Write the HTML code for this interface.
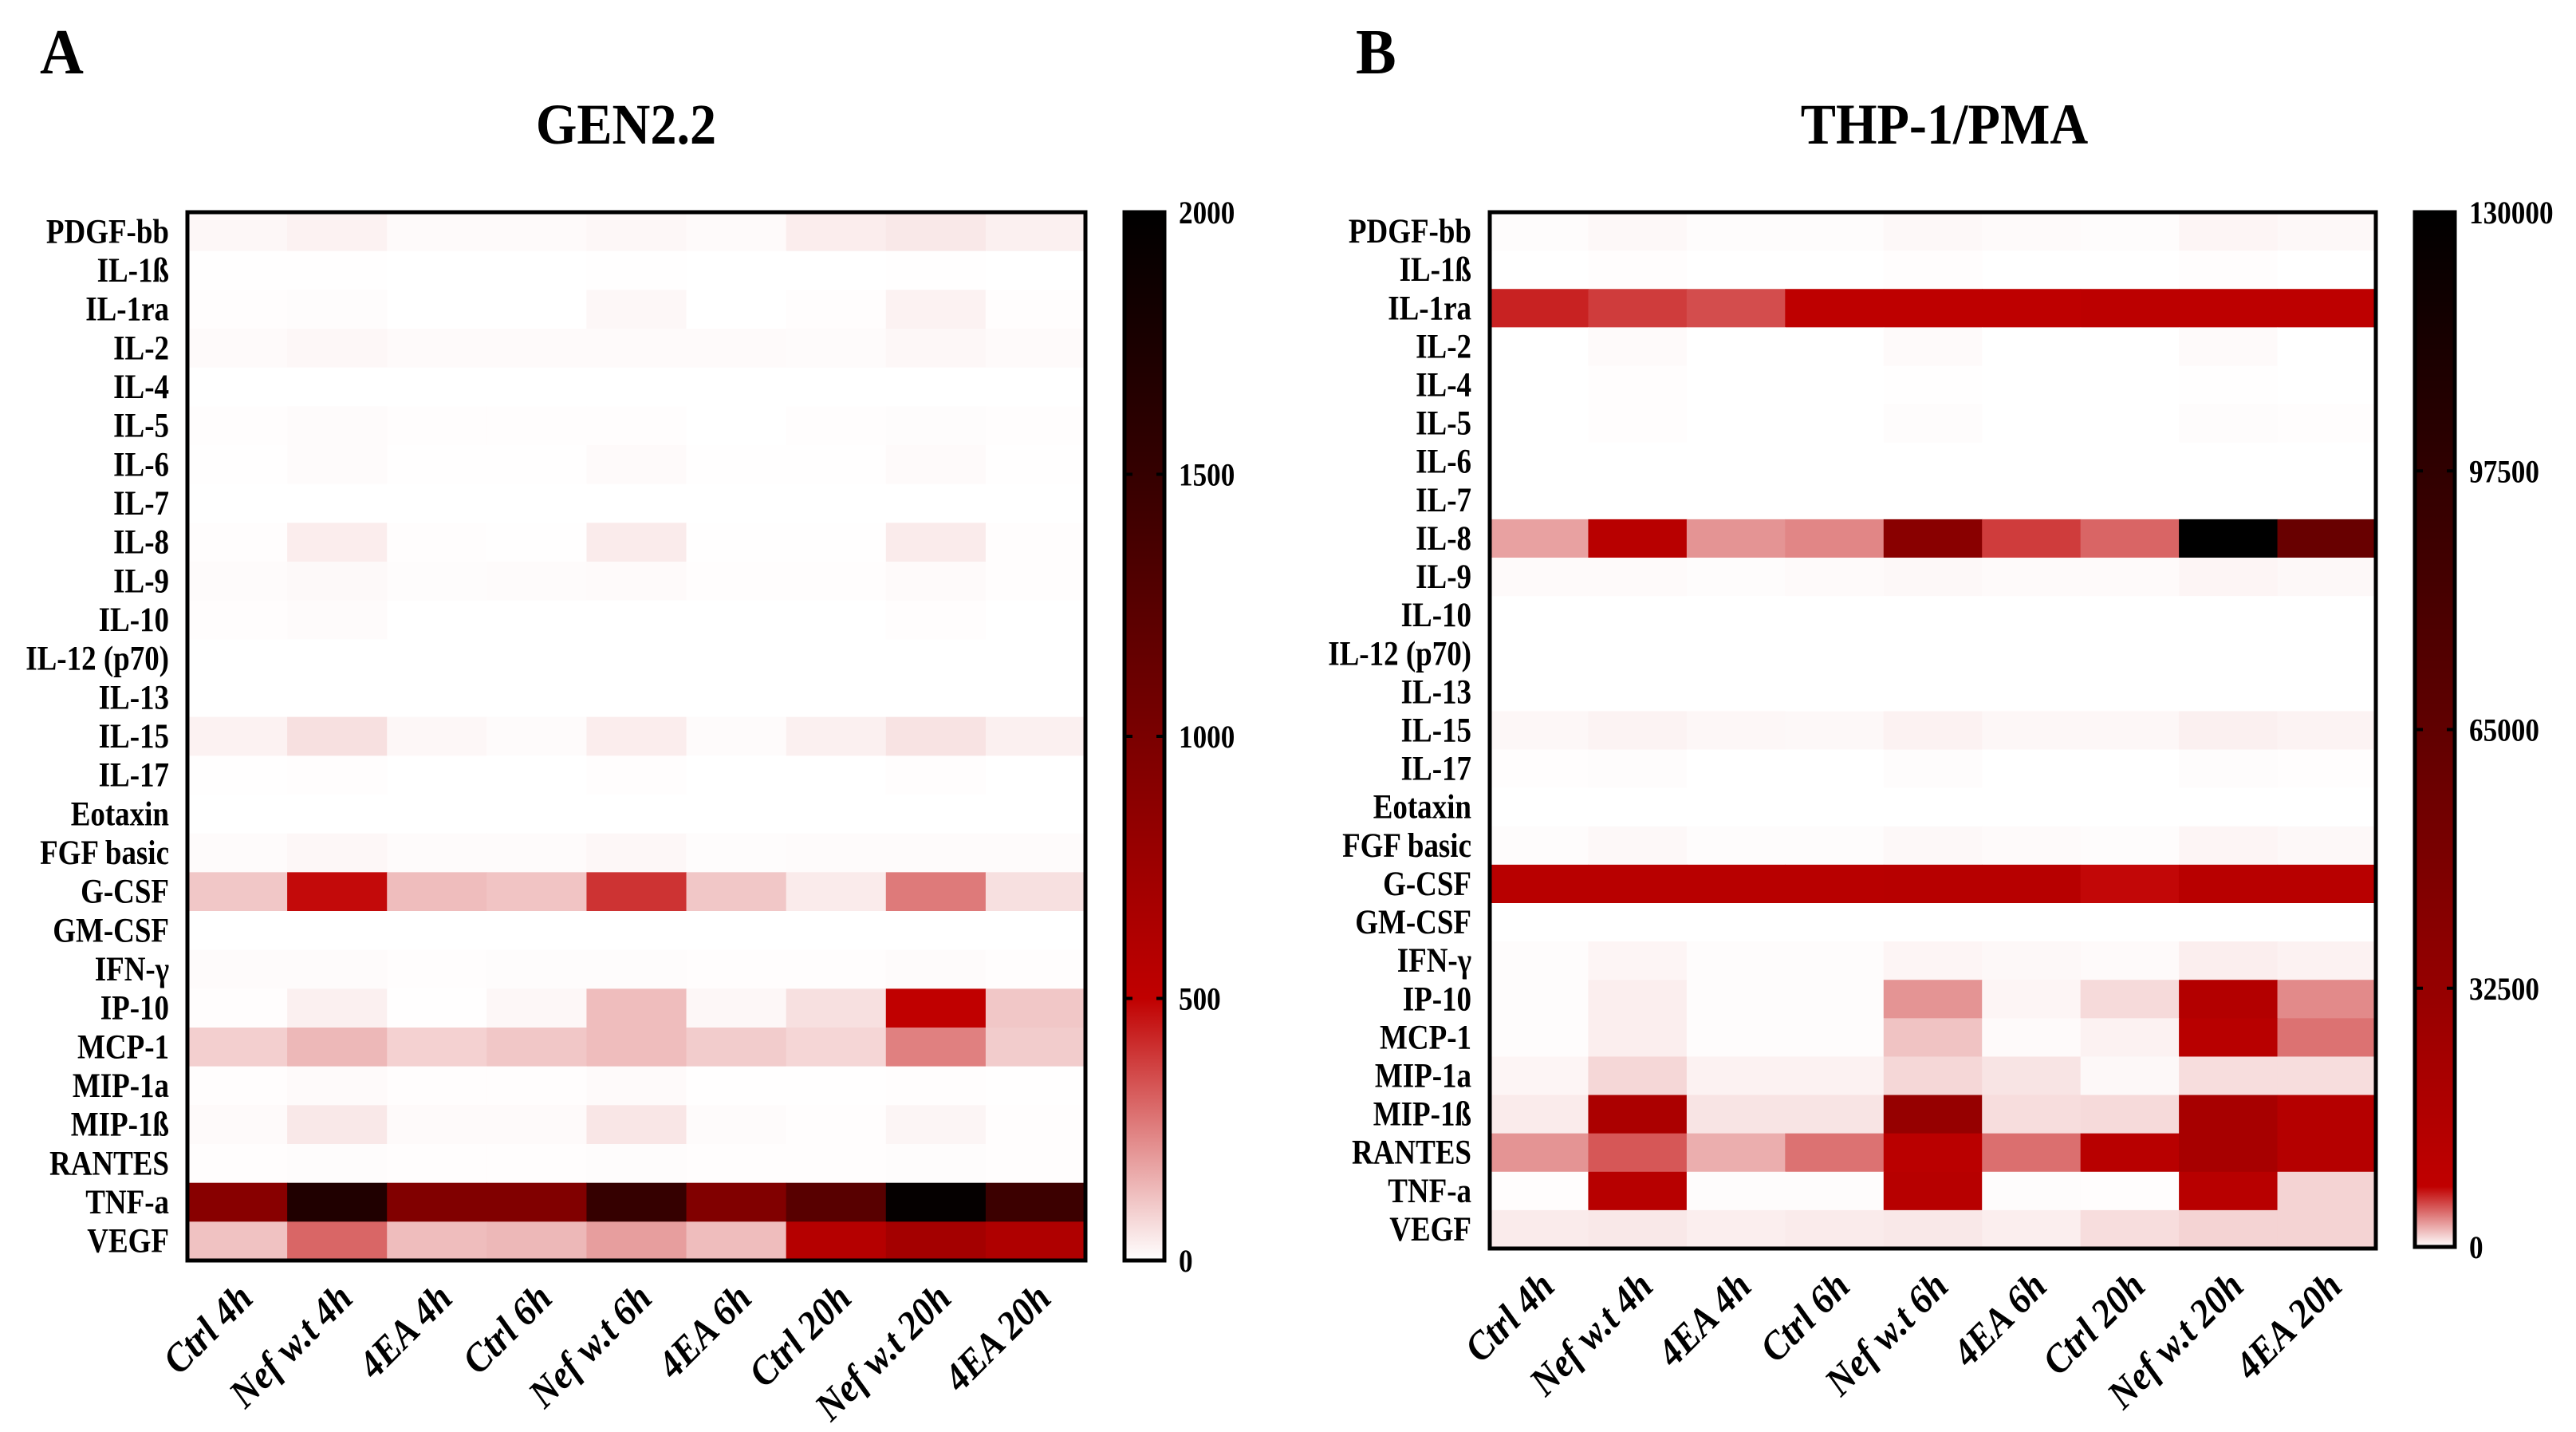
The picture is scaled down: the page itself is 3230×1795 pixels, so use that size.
<!DOCTYPE html>
<html><head><meta charset="utf-8"><style>
html,body{margin:0;padding:0;background:#fff;}
svg{display:block;font-family:"Liberation Serif",serif;font-weight:bold;}
</style></head><body>
<svg id="fig" width="3230" height="1795" viewBox="0 0 3230 1795" xmlns="http://www.w3.org/2000/svg">
<defs id="defs"></defs>
<text transform="translate(50 92) scale(0.95 1)" font-size="80">A</text>
<text transform="translate(1700 92) scale(0.95 1)" font-size="80">B</text>
<text transform="translate(785 180) scale(0.92 1)" font-size="72" text-anchor="middle">GEN2.2</text>
<text transform="translate(2438 180) scale(0.92 1)" font-size="72" text-anchor="middle">THP-1/PMA</text>
<g id="panelA"></g>
<g id="panelB"></g>
</svg>
<script>
const cytokines = ["PDGF-bb","IL-1ß","IL-1ra","IL-2","IL-4","IL-5","IL-6","IL-7","IL-8","IL-9","IL-10","IL-12 (p70)","IL-13","IL-15","IL-17","Eotaxin","FGF basic","G-CSF","GM-CSF","IFN-γ","IP-10","MCP-1","MIP-1a","MIP-1ß","RANTES","TNF-a","VEGF"];
const conditions = ["Ctrl 4h","Nef w.t 4h","4EA 4h","Ctrl 6h","Nef w.t 6h","4EA 6h","Ctrl 20h","Nef w.t 20h","4EA 20h"];
const valuesA = [
[15,25,10,10,15,10,35,45,30],
[1,1,0,0,1,0,0,1,0],
[3,5,0,0,15,0,3,25,3],
[10,15,10,10,10,10,8,15,10],
[0,0,0,0,0,0,0,0,0],
[3,8,3,3,3,0,3,5,3],
[2,8,2,2,10,2,2,10,2],
[0,0,0,0,0,0,0,0,0],
[3,35,3,2,40,2,2,40,3],
[8,12,5,8,10,3,3,10,3],
[3,8,0,0,0,0,0,3,0],
[0,0,0,0,0,0,0,0,0],
[0,0,0,0,0,0,0,0,0],
[25,60,15,8,35,8,30,55,30],
[2,3,0,0,3,0,0,3,0],
[0,0,0,0,0,0,0,0,0],
[8,15,8,8,15,5,8,8,8],
[110,480,130,115,400,110,40,260,60],
[0,0,0,0,0,0,0,0,0],
[8,8,3,5,5,3,3,8,3],
[3,30,2,15,130,15,60,500,110],
[95,140,90,110,130,100,80,250,100],
[3,10,3,3,10,2,2,3,2],
[10,45,10,10,50,8,3,20,3],
[3,5,3,3,5,3,3,5,3],
[900,1700,950,950,1500,950,1250,1950,1450],
[120,300,130,140,190,130,580,700,620]
];
const valuesB = [
[100,200,100,100,200,150,100,300,200],
[0,50,0,0,50,0,0,50,0],
[6600,5800,5300,8500,8500,8500,10000,9500,9500],
[0,150,0,0,150,0,0,150,0],
[0,50,0,0,30,0,0,30,0],
[0,50,0,0,100,0,0,100,50],
[0,0,0,0,0,0,0,0,0],
[0,0,0,0,0,0,0,0,0],
[2800,12000,3200,3600,40000,5800,4600,130000,60000],
[150,150,100,150,200,150,150,300,200],
[0,0,0,0,0,0,0,0,0],
[0,0,0,0,0,0,0,0,0],
[0,0,0,0,0,0,0,0,0],
[250,350,250,200,400,250,250,450,350],
[50,100,0,0,80,0,0,100,50],
[0,0,0,0,0,0,0,0,0],
[100,200,100,100,200,150,100,300,200],
[12000,12000,12000,12000,13000,13000,7400,12000,12000],
[0,0,0,0,0,0,0,0,0],
[100,300,100,100,300,200,150,500,400],
[100,500,100,100,3200,300,1100,15000,3500],
[100,500,100,100,1800,150,400,12000,4200],
[300,1200,400,400,1200,800,200,1000,1000],
[600,20000,800,800,32000,1000,1100,22000,14000],
[3200,5000,2400,4200,11000,4300,12000,22000,14000],
[50,13000,100,100,13000,100,50,12000,1300],
[600,700,500,600,700,500,1000,1300,1300]
];
const ticksA = [0,500,1000,1500,2000];
const ticksB = [0,32500,65000,97500,130000];
const stopValsA = [0,500,1000,1500,2000];
const stopColsA = ["#ffffff","#c00000","#7a0000","#350000","#000000"];
const stopValsB = [0,7600,32500,65000,97500,130000];
const stopColsB = ["#ffffff","#c00000","#950000","#600000","#300000","#000000"];

const NS="http://www.w3.org/2000/svg";
function mk(tag,attrs,parent){const e=document.createElementNS(NS,tag);for(const k in attrs)e.setAttribute(k,attrs[k]);parent.appendChild(e);return e;}
function hex(c){return [1,3,5].map(i=>parseInt(c.substr(i,2),16));}
function colorFor(v,sv,sc){
  if(v<=sv[0])return sc[0];
  for(let i=1;i<sv.length;i++){
    if(v<=sv[i]){const t=(v-sv[i-1])/(sv[i]-sv[i-1]);const a=hex(sc[i-1]),b=hex(sc[i]);
      return "rgb("+a.map((x,j)=>Math.round(x+(b[j]-x)*t)).join(",")+")";}
  }
  return sc[sc.length-1];
}
function panel(g,id,vals,ticks,sv,sc,L,R,T,B,labelX,cbL,cbR,cbB){
  const nr=cytokines.length,nc=conditions.length;
  const x=c=>L+(R-L)*c/nc, y=r=>T+(B-T)*r/nr;
  const vmax=ticks[ticks.length-1];
  const cy=v=>cbB-(cbB-T)*v/vmax;
  for(let r=0;r<nr;r++){
    for(let c=0;c<nc;c++){
      const cell=mk("rect",{x:x(c),y:y(r),width:(R-L)/nc+0.6,height:(B-T)/nr+0.6,fill:colorFor(vals[r][c],sv,sc)},g);
      
      
    }
    const t=mk("text",{transform:"translate("+labelX+" "+(y(r+0.5)+14)+") scale(0.86 1)","font-size":43,"text-anchor":"end"},g);
    t.textContent=cytokines[r];
    
    
  }
  const frame=mk("rect",{x:L,y:T,width:R-L,height:B-T,fill:"none",stroke:"#000","stroke-width":5},g);
  
  
  for(let c=0;c<nc;c++){
    const ax=x(c+0.5)+22, ay=B+50;
    const t=mk("text",{transform:"translate("+ax+" "+ay+") rotate(-45) scale(0.92 1)","font-size":50,"font-style":"italic","text-anchor":"end"},g);
    t.textContent=conditions[c];
    
    
  }
  const defs=document.getElementById("defs");
  const grad=mk("linearGradient",{id:id,x1:0,y1:1,x2:0,y2:0},defs);
  for(let i=0;i<sv.length;i++)mk("stop",{offset:sv[i]/vmax,"stop-color":sc[i]},grad);
  const cb=mk("rect",{x:cbL,y:T,width:cbR-cbL,height:cbB-T,fill:"url(#"+id+")",stroke:"#000","stroke-width":5},g);
  
  
  ticks.forEach(v=>{
    const yy=cy(v);
    mk("line",{x1:cbL,x2:cbL+10,y1:yy,y2:yy,stroke:"#000","stroke-width":4},g);
    mk("line",{x1:cbR-10,x2:cbR,y1:yy,y2:yy,stroke:"#000","stroke-width":4},g);
    const t=mk("text",{transform:"translate("+(cbR+18)+" "+(yy+14)+") scale(0.88 1)","font-size":40},g);
    t.textContent=v;
    
    
  });
}
panel(document.getElementById("panelA"),"gradA",valuesA,ticksA,stopValsA,stopColsA,235,1361,266,1580,212,1410,1460,1580);
panel(document.getElementById("panelB"),"gradB",valuesB,ticksB,stopValsB,stopColsB,1868,2979,266,1565,1845,3028,3078,1563);
</script>
</body></html>
